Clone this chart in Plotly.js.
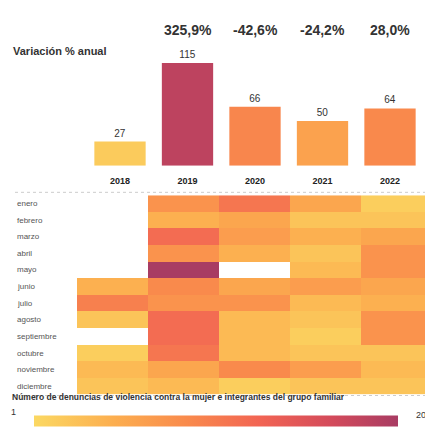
<!DOCTYPE html>
<html>
<head>
<meta charset="utf-8">
<script src="https://cdn.plot.ly/plotly-3.0.1.min.js"></script>
<style>html,body{margin:0;padding:0;background:#fff;}#chart{width:425px;height:437px;}</style>
</head>
<body>
<div id="chart"></div>
<script>
const years = [2018, 2019, 2020, 2021, 2022];
const yearLabels = ['2018', '2019', '2020', '2021', '2022'];
const annualTotals = [27, 115, 66, 50, 64];
const annualChange = ['', '325,9%', '-42,6%', '-24,2%', '28,0%'];
const months = ['enero','febrero','marzo','abril','mayo','junio','julio','agosto','septiembre','octubre','noviembre','diciembre'];
// monthly values per year (null = no data)
const v2018 = [null, null, null, null, null, 5, 10, 3, null, 2, 4, 3];
const v2019 = [8, 5, 12, 8, 20, 9, 8, 12, 12, 11, 6, 4];
const v2020 = [11, 6, 7, 5, null, 6, 8, 4, 4, 4, 9, 2];
const v2021 = [6, 3, 5, 3, 4, 7, 4, 3, 2, 3, 7, 3];
const v2022 = [2, 3, 6, 8, 8, 6, 5, 8, 8, 3, 4, 3];

const colorscale = [
  [0, '#fbd862'], [0.22, '#fcae4f'], [0.42, '#f98a4c'],
  [0.62, '#f26453'], [0.82, '#d34a5b'], [1, '#a83c63']
];

// z rows = months, columns = years
const z = months.map((m, i) => [v2018[i], v2019[i], v2020[i], v2021[i], v2022[i]]);

const H = 437, W = 425;
const py = p => 1 - p / H;
const FONT = 'Arial, Liberation Sans, sans-serif';

const traces = [
  {
    type: 'bar', x: years, y: annualTotals, xaxis: 'x', yaxis: 'y',
    width: 0.76,
    marker: { color: annualTotals, colorscale: colorscale, cmin: 20, cmax: 124 },
    text: annualTotals.map(String), textposition: 'outside', cliponaxis: false,
    textfont: { family: FONT, size: 10, color: '#333' },
    hoverinfo: 'skip'
  },
  {
    type: 'heatmap', x: years, y: months, z: z, xaxis: 'x2', yaxis: 'y2',
    colorscale: colorscale, zmin: 1, zmax: 20, hoverongaps: false,
    colorbar: {
      orientation: 'h', lenmode: 'pixels', len: 384, x: 216 / W, xanchor: 'center',
      y: py(427), yanchor: 'middle', thicknessmode: 'pixels', thickness: 11,
      outlinewidth: 0, showticklabels: false, ticks: ''
    }
  }
];

const annotations = [];
annualChange.forEach((t, i) => {
  if (!t) return;
  annotations.push({ text: '<b>' + t + '</b>', x: years[i], xref: 'x', y: py(20), yref: 'paper',
    showarrow: false, font: { family: FONT, size: 14, color: '#333' } });
});
annotations.push({ text: '<b>Variación % anual</b>', x: 11 / W, xref: 'paper', xanchor: 'left', y: py(44), yref: 'paper',
  showarrow: false, font: { family: FONT, size: 11, color: '#333' } });
months.forEach((m, i) => {
  annotations.push({ text: m, x: 15 / W, xref: 'paper', xanchor: 'left', y: m, yref: 'y2',
    showarrow: false, font: { family: FONT, size: 8, color: '#555' } });
});
annotations.push({ text: '<b>Número de denuncias de violencia contra la mujer e integrantes del grupo familiar</b>',
  x: 10 / W, xref: 'paper', xanchor: 'left', y: py(410), yref: 'paper', showarrow: false,
  font: { family: FONT, size: 8.5, color: '#333' } });
annotations.push({ text: '1', x: 13 / W, xref: 'paper', xanchor: 'center', y: py(425), yref: 'paper', showarrow: false,
  font: { family: FONT, size: 9, color: '#333' } });
annotations.push({ text: '20', x: 414 / W, xref: 'paper', xanchor: 'left', y: py(428), yref: 'paper', showarrow: false,
  font: { family: FONT, size: 9, color: '#333' } });

const layout = {
  width: W, height: H, margin: { l: 0, r: 0, t: 0, b: 0 },
  paper_bgcolor: '#fff', plot_bgcolor: 'rgba(0,0,0,0)', showlegend: false,
  xaxis: { domain: [0, 1], range: [2018 - 120 / 67.5, 2018 + 305 / 67.5], tickvals: years, ticktext: yearLabels.map(s => '<b>' + s + '</b>'),
    showgrid: false, zeroline: false, showline: false, ticks: '', ticklabelstandoff: 8,
    tickfont: { family: FONT, size: 9, color: '#222' }, fixedrange: true },
  yaxis: { domain: [py(168), py(52)], range: [0, 128], visible: false, fixedrange: true },
  xaxis2: { domain: [77 / W, 1], range: [2017.5, 2017.5 + 348 / 71], anchor: 'y2', visible: false, fixedrange: true },
  yaxis2: { domain: [py(400), py(198)], anchor: 'x2', autorange: 'reversed', showticklabels: false,
    showgrid: false, zeroline: false, ticks: '', fixedrange: true },
  shapes: [
    { type: 'line', xref: 'paper', yref: 'paper', x0: 15 / W, x1: 1, y0: py(195), y1: py(195), line: { color: '#ccc', width: 1, dash: 'dot' } },
    { type: 'line', xref: 'paper', yref: 'paper', x0: 15 / W, x1: 1, y0: py(401), y1: py(401), line: { color: '#ccc', width: 1, dash: 'dot' } }
  ],
  annotations: annotations
};

Plotly.newPlot('chart', traces, layout, { displayModeBar: false, staticPlot: true });
</script>
</body>
</html>
